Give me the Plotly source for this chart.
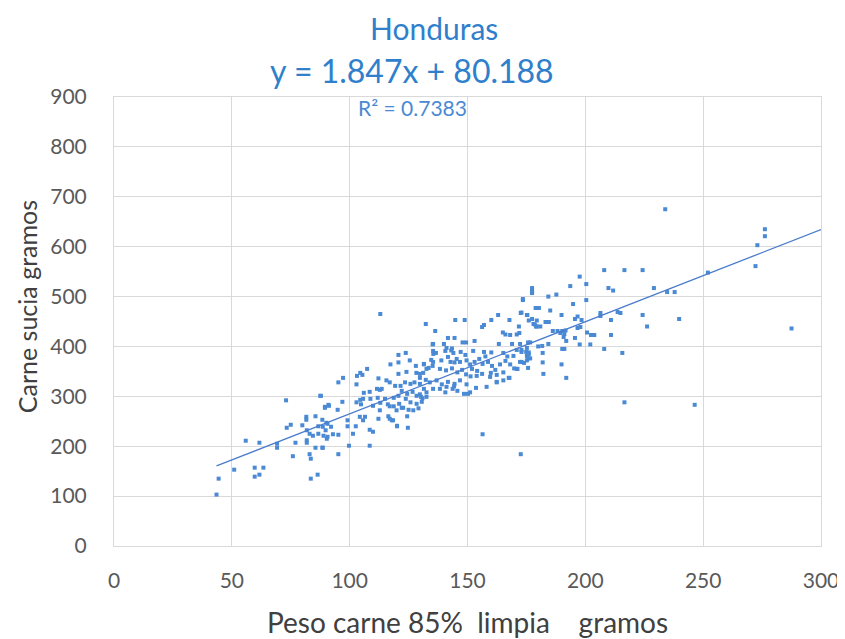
import plotly.graph_objects as go

# Estimated scatter points (peso carne limpia, carne sucia)
peso_limpia = [
    43.5, 44.4, 51, 55.9, 59.7, 59.7, 61.7, 63.4, 61.7, 69.2, 69.2, 73, 73.3, 75, 75.9, 77, 79.9,
    81.6, 81.6, 85.5, 81.8, 81.8, 81.8, 83, 83.5, 83.5, 86.4, 85.5, 88.4, 87.5, 89.5, 91,
    86.7, 88.6, 90.6, 89.8, 86.7, 88.9, 90.6, 83, 84.4,
    132.3, 136.3, 135.2, 135.5, 120.7, 123.8, 125.5, 117.3, 120.7, 107.4, 104.5, 105.4, 103.1,
    97.2, 95.2, 102.9, 108.5, 112.2, 115.6, 117, 120.7, 124.1, 128.3, 129.8, 128.1, 131.5, 133.5,
    111.6, 112.8, 113.6, 106, 104.5, 102.9, 104.8, 96.9, 94.9, 91.2, 89.5, 87.8,
    88.4, 90.1, 92.1, 92.9, 95.2, 90.3, 99.1, 99.1, 102.6, 101.4, 99.7, 88.6, 95.2, 108.5,
    108.5, 109.9, 104.3, 106.5, 105.7, 112.8, 112.2, 116.4, 117, 117.9,
    105.7, 108.8, 111.9, 115, 116.2, 113, 109.9, 117, 118.7, 119.9, 122.1, 120.1, 124.7, 124.4,
    119.3, 121.6, 123.5, 125.8, 127.5, 129.8, 122.1, 124.4, 126.7, 128.4, 130.3, 120.7, 118.7,
    123.8, 125.8, 128.4, 130.6, 121, 122.7, 125, 127, 129.2, 118.4, 120.1, 113,
    177.4, 173.5, 178.9, 179.4, 178, 179.4, 172.6, 175.2, 176, 163, 160.1, 157, 156.2,
    167.8, 171.8, 170.9, 172, 165, 166.1, 168.1, 148.8, 144.8, 141.7, 144.5, 147.9, 149.4, 153,
    135.4, 140, 141.1, 143.4, 163.3, 168.9, 172.3, 176.6, 175.2,
    135.4, 136.6, 140.6, 143.1, 144, 147.1, 149.1, 152.4, 157, 160.1, 157.6,
    170.9, 172.9, 176, 165.2, 166.9, 169.5, 131.5, 132.6, 131.2, 129.8, 134.6, 135.4, 135.2,
    138.9, 141.7, 142.8, 144.5, 145.4, 146.8, 149.6, 151.1, 153, 155, 156.4, 158.7, 160.4, 161.8,
    163.8, 166.1, 168.1, 169.8, 172.3, 174, 171.2, 138.3, 140.9, 143.4, 145.7, 147.7, 149.4,
    151.9, 154.1, 156.2, 153.9, 151.3, 159.9, 162.4, 165.2, 167.8, 165.2, 162.4, 159.6,
    132.3, 134, 136.9, 139.1, 141.7, 144.5, 146.8, 149.6, 131.5, 132.6, 132.6, 130.9, 129.8,
    135.4, 138.3, 141.1, 143.7, 144.3, 140.6, 145.7, 148.5, 150.2, 151.1,
    153.6, 158.1, 162.4, 167.5, 170.9, 175.7, 176.6, 175.2,
    208, 216.6, 197.6, 200.4, 193.6, 177.4, 177.4, 177.4, 184.3, 187.7, 209.8, 211.8, 173.5,
    200.4, 194.8, 180.3, 185.1, 189.9, 172.9, 175.4, 177.4, 178.6, 179.1, 180.9, 183.1, 184.5,
    195.6, 196.7, 198.4, 206.4, 206.4, 213.7, 214.9, 210.9, 186.2, 188.2, 190.2, 191.6, 191.1,
    189.4, 196.7, 197.9, 200.7, 202.4, 203.8, 210.9, 190.8, 191.9, 195.6, 175.7, 180, 181.7,
    184.3, 190.2, 191.1, 197.6, 202.1, 208, 215.7, 172.9, 174.9, 176, 175.7, 175.2, 172.9,
    181.9, 181.9, 182.2, 189.9, 191.9,
    233.9, 273, 272.2, 252, 224.3, 229.1, 234.7, 237.9, 224.3, 226.2, 239.8, 216.6, 246.4,
    276.2, 276.2, 287.5, 156.4, 172.6,
]
carne_sucia = [
    103, 135, 153, 211, 157, 139, 143, 157, 207, 205, 197, 292, 237, 243, 180, 207, 242,
    259, 253, 260, 232, 212, 207, 184, 175, 135, 143, 197, 197, 301, 279, 283,
    240, 239, 245, 232, 225, 221, 219, 225, 221,
    445, 431, 404, 385, 383, 387, 372, 364, 368, 355, 347, 343, 341,
    337, 328, 324, 309, 336, 332, 328, 345, 349, 347, 345, 361, 365, 357,
    315, 313, 315, 307, 293, 288, 284, 289, 273, 281, 277, 301,
    253, 247, 239, 224, 223, 215, 252, 240, 240, 225, 201, 197, 184, 201,
    233, 229, 259, 259, 252, 272, 255, 260, 255, 252,
    295, 295, 297, 295, 284, 287, 281, 280, 280, 272, 277, 240, 237, 260,
    321, 321, 328, 325, 328, 325, 311, 305, 309, 301, 299, 301, 297,
    295, 288, 285, 289, 285, 277, 273, 272, 276, 252, 241, 465,
    508, 495, 477, 452, 445, 440, 467, 463, 452, 463, 453, 443, 439,
    453, 440, 424, 427, 428, 424, 423, 453, 453, 417, 417, 408, 408, 411,
    405, 405, 397, 396, 405, 405, 405, 408, 397,
    391, 387, 391, 392, 387, 389, 383, 391, 389, 388, 380,
    393, 389, 388, 387, 380, 381, 364, 355, 347, 337, 373, 369, 361,
    372, 379, 369, 368, 375, 369, 372, 364, 369, 375, 365, 369, 361, 353,
    364, 371, 364, 356, 369, 367, 355, 355, 352, 356, 348, 353, 344,
    355, 351, 345, 341, 340, 347, 343, 348, 337, 332, 329, 339,
    333, 328, 332, 324, 329, 325, 332, 324, 315, 308, 299, 296, 304,
    315, 315, 319, 315, 320, 308, 311, 305, 305, 308,
    317, 319, 328, 337, 355, 357, 376, 381,
    553, 553, 540, 525, 521, 517, 512, 507, 500, 504, 517, 512, 493,
    493, 485, 477, 472, 463, 468, 463, 455, 444, 440, 440, 449, 449,
    455, 460, 453, 467, 461, 469, 467, 453, 431, 431, 431, 432, 425,
    427, 437, 439, 428, 423, 423, 423, 419, 411, 417, 408, 400, 401,
    405, 395, 395, 404, 404, 395, 387, 393, 389, 384, 376, 372, 369,
    387, 368, 345, 364, 337,
    675, 603, 561, 548, 553, 517, 509, 509, 463, 440, 455, 288, 283,
    635, 621, 436, 224, 184,
]

# Trendline reported on the chart
slope = 1.847
intercept = 80.188
trend_x = [min(peso_limpia), 300]
trend_y = [slope * v + intercept for v in trend_x]

x_ticks = [0, 50, 100, 150, 200, 250, 300]
y_ticks = [0, 100, 200, 300, 400, 500, 600, 700, 800, 900]

blue = "#4a89d4"
font_family = "Lato, 'Open Sans', sans-serif"

fig = go.Figure()
fig.add_trace(go.Scatter(
    x=peso_limpia, y=carne_sucia, mode="markers",
    marker=dict(symbol="square", size=4, color=blue, line=dict(width=0)),
    showlegend=False, hoverinfo="x+y",
))
fig.add_trace(go.Scatter(
    x=trend_x, y=trend_y, mode="lines",
    line=dict(color="#4a7ccc", width=1.3),
    showlegend=False, hoverinfo="skip",
))

grid = "#d9d9d9"
fig.update_layout(
    width=845, height=639,
    margin=dict(l=106, r=32, t=89, b=101, autoexpand=False),
    plot_bgcolor="white", paper_bgcolor="white",
    font=dict(family=font_family, color="#595959"),
    xaxis=dict(
        range=[0, 300], tickvals=x_ticks, showgrid=True, gridcolor=grid, gridwidth=1,
        zeroline=True, zerolinecolor=grid, zerolinewidth=1,
        showline=True, linecolor=grid, mirror=True,
        ticks="outside", ticklen=16, tickcolor="rgba(0,0,0,0)",
        tickfont=dict(size=21, color="#595959"),
        title=dict(text="Peso carne 85%\u00a0\u00a0limpia\u00a0\u00a0\u00a0\u00a0gramos",
                   font=dict(size=28, color="#404040"), standoff=22),
    ),
    yaxis=dict(
        range=[0, 900], tickvals=y_ticks, showgrid=True, gridcolor=grid, gridwidth=1,
        zeroline=True, zerolinecolor=grid, zerolinewidth=1,
        showline=True, linecolor=grid, mirror=True,
        ticks="outside", ticklen=22, tickcolor="rgba(0,0,0,0)",
        tickfont=dict(size=21, color="#595959"),
    ),
    annotations=[
        dict(text="Honduras", xref="paper", yref="paper", x=0.452, y=1.153,
             showarrow=False, font=dict(size=30, color="#2f7fcc", family=font_family),
             xanchor="center", yanchor="middle"),
        dict(text="y = 1.847x + 80.188", xref="paper", yref="paper", x=0.422, y=1.060,
             showarrow=False, font=dict(size=32, color="#2f7fcc", family=font_family),
             xanchor="center", yanchor="middle"),
        dict(text="R² = 0.7383", xref="paper", yref="paper", x=0.422, y=0.976,
             showarrow=False, font=dict(size=21, color="#4a89d4", family=font_family),
             xanchor="center", yanchor="middle"),
        dict(text="Carne sucia gramos", xref="paper", yref="paper", x=-0.123, y=0.532,
             textangle=-90, showarrow=False,
             font=dict(size=25, color="#404040", family=font_family),
             xanchor="center", yanchor="middle"),
    ],
)

fig.write_html("out.html")
